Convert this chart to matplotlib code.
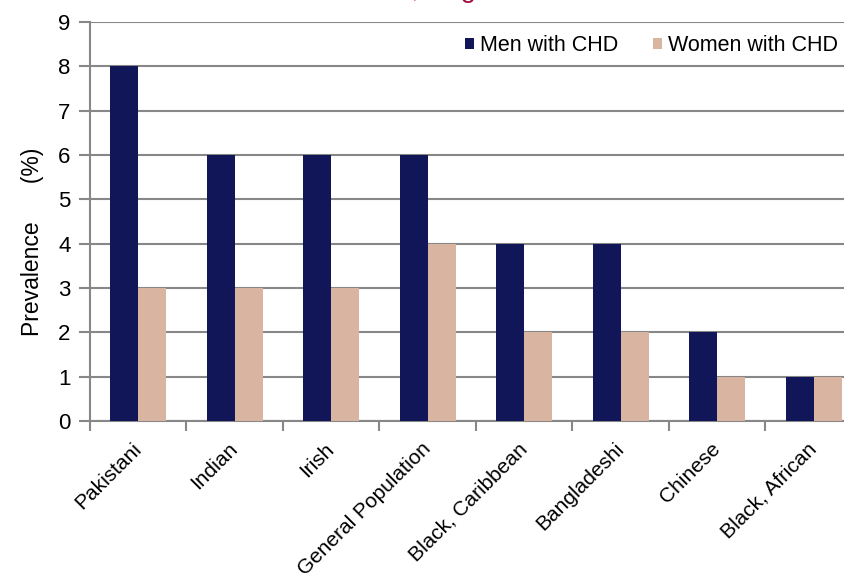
import numpy as np
import matplotlib
matplotlib.use("Agg")
import matplotlib.pyplot as plt

plt.rcParams['font.family'] = ['Liberation Sans', 'DejaVu Sans']

groups = ["Pakistani", "Indian", "Irish", "General Population",
          "Black, Caribbean", "Bangladeshi", "Chinese", "Black, African"]
men = [8, 6, 6, 6, 4, 4, 2, 1]
women = [3, 3, 3, 4, 2, 2, 1, 1]

men_color = "#111659"
women_color = "#D8B4A1"
grid_color = "#878787"

fig = plt.figure(figsize=(8.45, 5.73), dpi=100)
# axes run a little past the right edge of the figure
ax = fig.add_axes([90 / 845, 1 - 421 / 573, 772 / 845, 399 / 573])

x = np.arange(len(groups))
w = 0.29
ax.bar(x - w / 2, men, width=w, color=men_color, label="Men with CHD", zorder=3)
ax.bar(x + w / 2, women, width=w, color=women_color, label="Women with CHD", zorder=3)

ax.set_xlim(-0.5, len(groups) - 0.5)
ax.set_ylim(0, 9)
ax.set_yticks(range(10))
ax.yaxis.grid(True, color=grid_color, linewidth=1.5, zorder=0)
ax.set_axisbelow(True)

# category boundaries carry the tick marks, labels sit under each group
ax.set_xticks(np.arange(len(groups) + 1) - 0.5)
ax.set_xticklabels([])
ax.set_xticks(x, minor=True)
ax.set_xticklabels(groups, minor=True, rotation=45, ha="right",
                   va="center", rotation_mode="anchor", fontsize=15)
ax.tick_params(axis="x", which="minor", length=0, pad=18)
ax.tick_params(axis="x", which="major", length=7, width=1.5, color=grid_color)
ax.tick_params(axis="y", length=8, width=1.5, color=grid_color, labelsize=16, pad=6)

for side in ("top", "right"):
    ax.spines[side].set_visible(False)
for side in ("left", "bottom"):
    ax.spines[side].set_color(grid_color)
    ax.spines[side].set_linewidth(1.5)

ax.set_ylabel("Prevalence      (%)", fontsize=16.5)
ax.yaxis.set_label_coords(-0.06, 0.45)

ax.legend(loc="upper right", bbox_to_anchor=(0.969, 0.968), ncol=2, frameon=False,
          fontsize=15.5, handlelength=0.4, handleheight=0.4, handletextpad=0.3,
          columnspacing=1.6, borderpad=0, borderaxespad=0)

fig.text(0.416, 1.006, "Prevalence of CHD, England", color="#A0123D",
         fontsize=20, ha="center", va="baseline")

fig.savefig("out.png", dpi=100)
